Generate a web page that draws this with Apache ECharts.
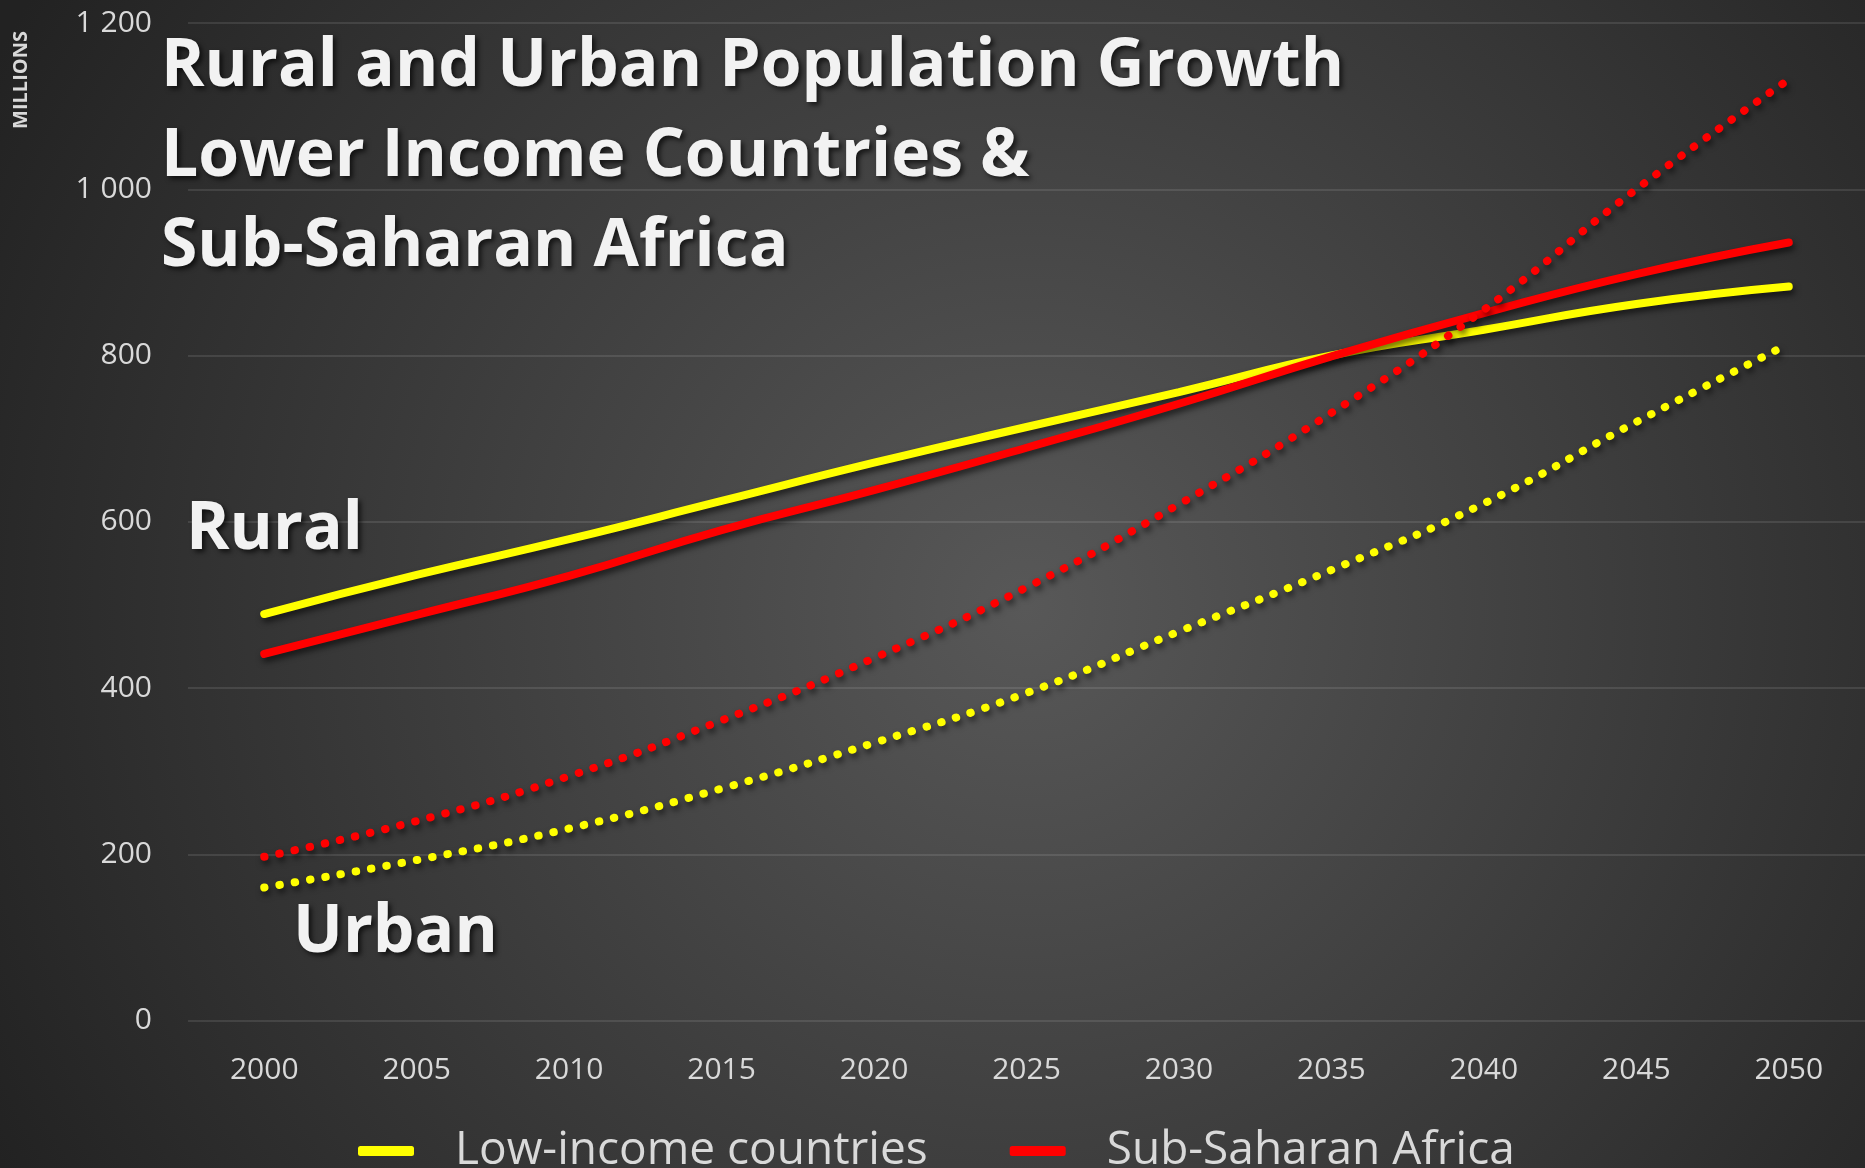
<!DOCTYPE html>
<html>
<head>
<meta charset="utf-8">
<script src="https://cdn.jsdelivr.net/npm/echarts@6/dist/echarts.min.js"></script>
<style>
html,body{margin:0;padding:0;background:#2a2a2a;}
#chart{width:1865px;height:1168px;}
</style>
</head>
<body>
<div id="chart"></div>
<script>
const years = ['2000','2005','2010','2015','2020','2025','2030','2035','2040','2045','2050'];
const lowIncomeRural = [489, 536, 579, 625, 671, 714, 756, 800, 831, 862, 883];
const ssaRural = [441, 488, 535, 590, 638, 689, 742, 799, 851, 898, 936];
const lowIncomeUrban = [160, 193, 231, 279, 334, 394, 468, 542, 622, 720, 814];
const ssaUrban = [197, 240, 294, 361, 436, 521, 621, 731, 855, 1000, 1132];
const yTicks = {min: 0, max: 1200, interval: 200};
const seriesNames = ['Low-income countries', 'Sub-Saharan Africa'];

const YELLOW = '#ffff00';
const RED = '#ff0000';
const lineShadow = {shadowColor: 'rgba(0,0,0,0.6)', shadowBlur: 6, shadowOffsetX: 2, shadowOffsetY: 4};
const labelFont = '"Open Sans", "DejaVu Sans", sans-serif';
const textShadow = {textShadowColor: 'rgba(0,0,0,0.65)', textShadowBlur: 5, textShadowOffsetX: 3, textShadowOffsetY: 3};
const bigText = Object.assign({color: '#f2f2f2', fontSize: 66, fontWeight: 'bold', fontFamily: labelFont, lineHeight: 90}, textShadow);

function mkSeries(name, data, color, dotted) {
  return {
    name: name,
    type: 'line',
    data: data,
    smooth: true,
    symbol: 'none',
    lineStyle: Object.assign({
      color: color,
      width: 8,
      type: dotted ? [0.5, 15] : 'solid',
      cap: 'round'
    }, lineShadow),
    itemStyle: {color: color},
    emphasis: {disabled: true}
  };
}

const chart = echarts.init(document.getElementById('chart'));
chart.setOption({
  animation: false,
  backgroundColor: {
    type: 'radial', x: 0.55, y: 0.52, r: 1.0,
    colorStops: [{offset: 0, color: '#585858'}, {offset: 1, color: '#222222'}]
  },
  grid: {left: 188, right: 0, top: 23, bottom: 147.5, containLabel: false},
  xAxis: {
    type: 'category',
    data: years,
    boundaryGap: true,
    axisLine: {show: false},
    axisTick: {show: false},
    axisLabel: {color: '#d9d9d9', fontSize: 30, fontFamily: labelFont, margin: 35},
    splitLine: {show: false}
  },
  yAxis: {
    type: 'value',
    min: yTicks.min, max: yTicks.max, interval: yTicks.interval,
    axisLine: {show: false},
    axisTick: {show: false},
    axisLabel: {
      color: '#d9d9d9', fontSize: 30, fontFamily: labelFont, margin: 36,
      formatter: function (v) { return v >= 1000 ? Math.floor(v / 1000) + ' ' + String(v % 1000).padStart(3, '0') : String(v); }
    },
    splitLine: {lineStyle: {color: 'rgba(255,255,255,0.1)', width: 2}}
  },
  legend: {
    left: 353, top: 1121,
    itemWidth: 56, itemHeight: 10, itemGap: 82,
    icon: 'roundRect',
    selectedMode: false,
    textStyle: {color: '#d9d9d9', fontSize: 46, fontFamily: labelFont, padding: [0, 0, 0, 36], lineHeight: 50},
    data: [
      {name: seriesNames[0], itemStyle: {color: YELLOW}},
      {name: seriesNames[1], itemStyle: {color: RED}}
    ]
  },
  title: [
    {
      text: 'Rural and Urban Population Growth\nLower Income Countries &\nSub-Saharan Africa',
      left: 156, top: 17,
      textStyle: bigText
    },
    {text: 'Rural', left: 181, top: 480, textStyle: bigText},
    {text: 'Urban', left: 288, top: 883, textStyle: bigText}
  ],
  graphic: [
    {
      type: 'text',
      x: 21, y: 80,
      rotation: Math.PI / 2,
      style: {text: 'MILLIONS', fill: '#d9d9d9', font: 'bold 20px "Open Sans", sans-serif', align: 'center', verticalAlign: 'middle'}
    }
  ],
  series: [
    mkSeries(seriesNames[0], lowIncomeRural, YELLOW, false),
    mkSeries(seriesNames[1], ssaRural, RED, false),
    mkSeries(seriesNames[1], ssaUrban, RED, true),
    mkSeries(seriesNames[0], lowIncomeUrban, YELLOW, true)
  ]
});
</script>
</body>
</html>
